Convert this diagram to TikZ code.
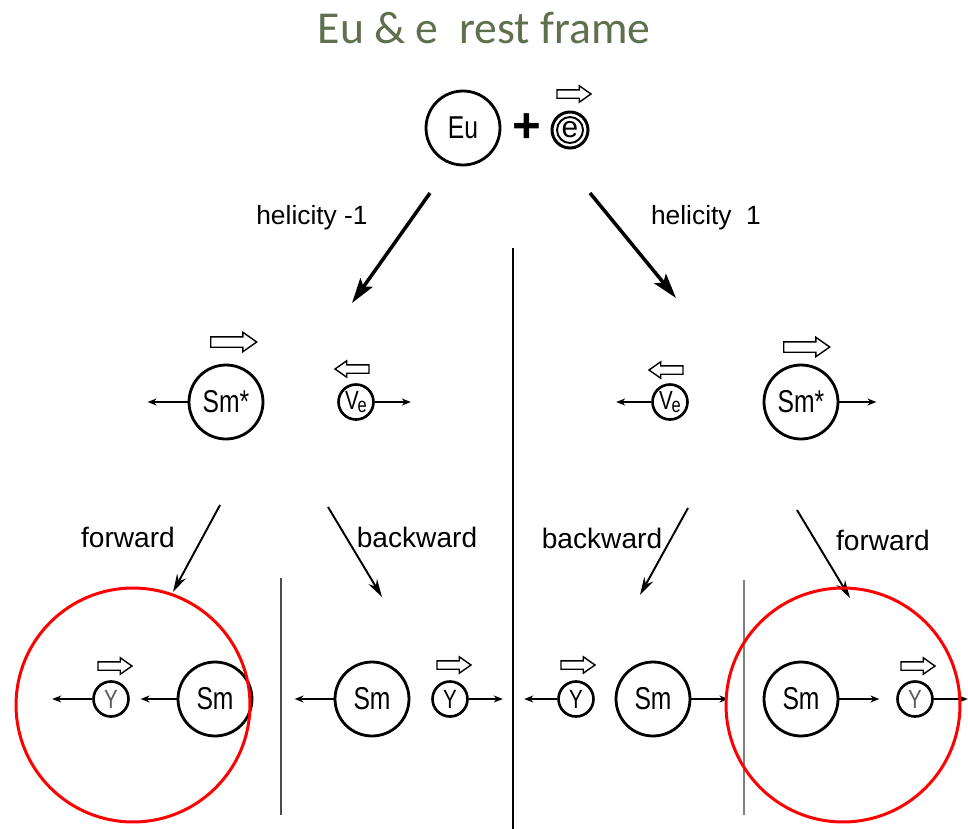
\documentclass[tikz,border=0pt]{standalone}
\usepackage{fontspec}
\setmainfont{Liberation Sans}
\newfontfamily\titlefont{Carlito}
\newfontfamily\narrowfont[FakeStretch=0.78]{Liberation Sans}
\usetikzlibrary{arrows.meta,shapes.arrows}
\definecolor{titlegreen}{RGB}{95,112,78}

\tikzset{
  big/.style={circle,draw,line width=1.6pt,inner sep=0pt,minimum size=1.48cm,font=\narrowfont\fontsize{18}{18}\selectfont},
  small/.style={circle,draw,line width=1.5pt,inner sep=0pt,minimum size=0.70cm,font=\narrowfont\fontsize{15}{15}\selectfont},
  spin/.style={single arrow,draw,line width=0.8pt,inner sep=0pt,text width=0pt,text height=0.18cm,text depth=0pt,minimum height=0.92cm,single arrow head extend=0.09cm,single arrow tip angle=70},
  spins/.style={spin,text height=0.14cm,minimum height=0.68cm,single arrow head extend=0.08cm},
  mom/.style={-{Stealth[length=0.18cm,width=0.14cm]},line width=1.1pt},
  decay/.style={-{Stealth[length=0.5cm,width=0.3cm,inset=0.1cm]},line width=2pt},
  way/.style={-{Stealth[length=0.36cm,width=0.2cm]},line width=1.1pt},
  lbl/.style={font=\fontsize{16}{16}\selectfont},
  ring/.style={red,line width=1.7pt}
}
\newcommand{\nue}{V\kern-0.05em\raisebox{-0.12em}{\fontsize{12}{12}\selectfont e}}

\begin{document}
\begin{tikzpicture}[x=0.02cm,y=-0.02cm]
  \useasboundingbox (0,0) rectangle (968,829);
  \node[font=\titlefont\fontsize{26}{26}\selectfont,text=titlegreen] (title) at (484,28) {Eu \& e\ \ rest frame};

  % initial state
  \node[big] (eu) at (463,128) {Eu};
  \node[font=\bfseries\fontsize{28}{28}\selectfont] (plus) at (527,128) {+};
  \node[circle,draw,line width=1.7pt,inner sep=0pt,minimum size=0.72cm,font=\fontsize{17}{17}\selectfont] (el) at (570,130) {e};
  \draw[line width=1.1pt] (el.center) circle[radius=0.26cm];
  \node[spins] (elspin) at (571,94) {};

  % capture
  \coordinate (hl0) at (430,193); \coordinate (hl1) at (352,303);
  \coordinate (hr0) at (590,193); \coordinate (hr1) at (676,298);
  \draw[decay] (hl0) -- (hl1);
  \draw[decay] (hr0) -- (hr1);
  \node[font=\fontsize{15}{15}\selectfont] (helm) at (312,218) {helicity -1};
  \node[font=\fontsize{15}{15}\selectfont] (help) at (706,218) {helicity\ \ 1};
  \draw[line width=1.3pt] (513,248) -- (513,829);

  % intermediate states
  \node[big] (smL) at (226,402) {Sm*}; \node[spin] (smLspin) at (230,342) {};
  \draw[mom] (smL.west) -- ++(-40,0) coordinate (smLp);
  \node[small] (veL) at (356,402) {\nue}; \node[spins,shape border rotate=180] (veLspin) at (355,369) {};
  \draw[mom] (veL.east) -- ++(36,0) coordinate (veLp);
  \node[small] (veR) at (670,402) {\nue}; \node[spins,shape border rotate=180] (veRspin) at (669,370) {};
  \draw[mom] (veR.west) -- ++(-35,0) coordinate (veRp);
  \node[big] (smR) at (801,402) {Sm*}; \node[spin] (smRspin) at (803,347) {};
  \draw[mom] (smR.east) -- ++(37,0) coordinate (smRp);

  % gamma emission
  \coordinate (fl0) at (220,505); \coordinate (fl1) at (173,592);
  \coordinate (bl0) at (328,507); \coordinate (bl1) at (382,597);
  \coordinate (br0) at (688,508); \coordinate (br1) at (640,595);
  \coordinate (fr0) at (797,510); \coordinate (fr1) at (850,598);
  \draw[way] (fl0) -- (fl1); \draw[way] (bl0) -- (bl1);
  \draw[way] (br0) -- (br1); \draw[way] (fr0) -- (fr1);
  \node[lbl] (fwdL) at (128,537) {forward};
  \node[lbl] (bwdL) at (417,537) {backward};
  \node[lbl] (bwdR) at (602,538) {backward};
  \node[lbl] (fwdR) at (883,540) {forward};
  \draw[line width=1.3pt,gray!60!black] (281,578) -- (281,815);
  \draw[line width=1.3pt,gray] (744,580) -- (744,815);

  % final states
  \node[small] (g1) at (111,699) {\textcolor{gray!70!black}{Y}}; \node[spins] (g1spin) at (112,666) {};
  \draw[mom] (g1.west) -- ++(-40,0) coordinate (g1p);
  \node[big] (s1) at (215,699) {Sm};
  \draw[mom] (s1.west) -- ++(-36,0) coordinate (s1p);
  \node[big] (s2) at (372,699) {Sm};
  \draw[mom] (s2.west) -- ++(-39,0) coordinate (s2p);
  \node[small] (g2) at (450,699) {Y}; \node[spins] (g2spin) at (451,665) {};
  \draw[mom] (g2.east) -- ++(34,0) coordinate (g2p);
  \node[small] (g3) at (576,699) {Y}; \node[spins] (g3spin) at (575,665) {};
  \draw[mom] (g3.west) -- ++(-33,0) coordinate (g3p);
  \node[big] (s3) at (653,699) {Sm};
  \draw[mom] (s3.east) -- ++(37,0) coordinate (s3p);
  \node[big] (s4) at (801,699) {Sm};
  \draw[mom] (s4.east) -- ++(40,0) coordinate (s4p);
  \node[small] (g4) at (915,699) {\textcolor{gray!70!black}{Y}}; \node[spins] (g4spin) at (915,666) {};
  \draw[mom] (g4.east) -- ++(34,0) coordinate (g4p);

  % observed cases
  \draw[ring] (133,705) circle[radius=2.34cm];
  \draw[ring] (843,705) circle[radius=2.34cm];
\end{tikzpicture}
\end{document}
